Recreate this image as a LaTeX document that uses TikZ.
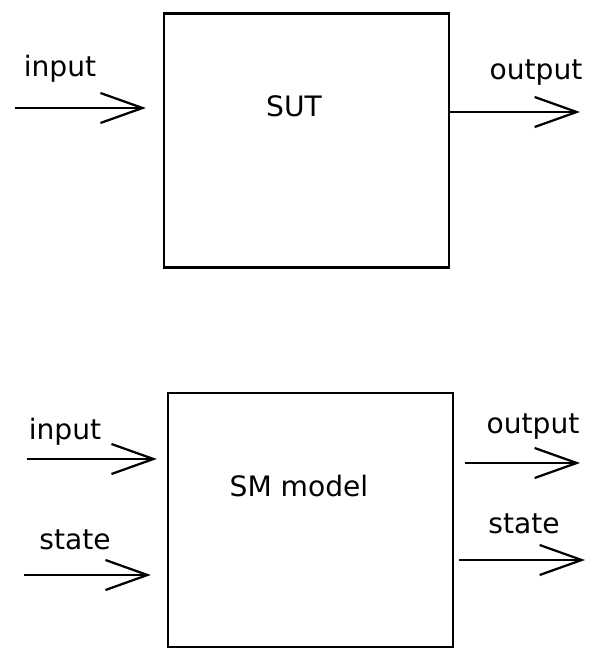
\documentclass[tikz,border=0pt]{standalone}
\usepackage{fontspec}
\setmainfont{DejaVu Sans}
\usepackage{tikz}
\usetikzlibrary{arrows.meta, positioning, calc}
\tikzset{
  sysbox/.style={rectangle,draw=black,line width=1.6pt,minimum width=7.125cm,minimum height=6.35cm,
    font=\fontsize{20}{24}\selectfont},
  sigtext/.style={anchor=base,font=\fontsize{20}{24}\selectfont},
  sigarr/.style={-{Straight Barb[length=1.05cm,width=0.75cm,line width=1.6pt]},line width=1.6pt,color=black}
}
\begin{document}
\begin{tikzpicture}[x=0.025cm,y=-0.025cm]
  \useasboundingbox (0,0) rectangle (600,661);

  %% System under test
  \node[sysbox] (sut) at (306.5,140.5) {};
  \node[sigtext] (sutLabel) at (294,117) {SUT};

  \coordinate (sutIn) at (15,108);
  \coordinate (sutOut) at (580,112);
  \draw[sigarr,shorten >=0.425cm] (sutIn) -- (sutIn -| sut.west);
  \draw[sigarr] (sutOut -| sut.east) -- (sutOut);
  \node[sigtext] (sutInLabel) at (60,77) {input};
  \node[sigtext] (sutOutLabel) at (536,80) {output};

  %% State machine model
  \node[sysbox] (sm) at (310.5,520) {};
  \node[sigtext] (smLabel) at (299,496) {SM model};

  \coordinate (smIn) at (27,459);
  \coordinate (smStateIn) at (24,575);
  \coordinate (smOut) at (580,463);
  \coordinate (smStateOut) at (585,560);
  \draw[sigarr,shorten >=0.25cm] (smIn) -- (smIn -| sm.west);
  \draw[sigarr,shorten >=0.4cm] (smStateIn) -- (smStateIn -| sm.west);
  \draw[sigarr,shorten <=0.275cm] (smOut -| sm.east) -- (smOut);
  \draw[sigarr,shorten <=0.125cm] (smStateOut -| sm.east) -- (smStateOut);
  \node[sigtext] (smInLabel) at (65,439) {input};
  \node[sigtext] (smStateInLabel) at (75,549) {state};
  \node[sigtext] (smOutLabel) at (533,433) {output};
  \node[sigtext] (smStateOutLabel) at (524,533) {state};
\end{tikzpicture}
\end{document}
